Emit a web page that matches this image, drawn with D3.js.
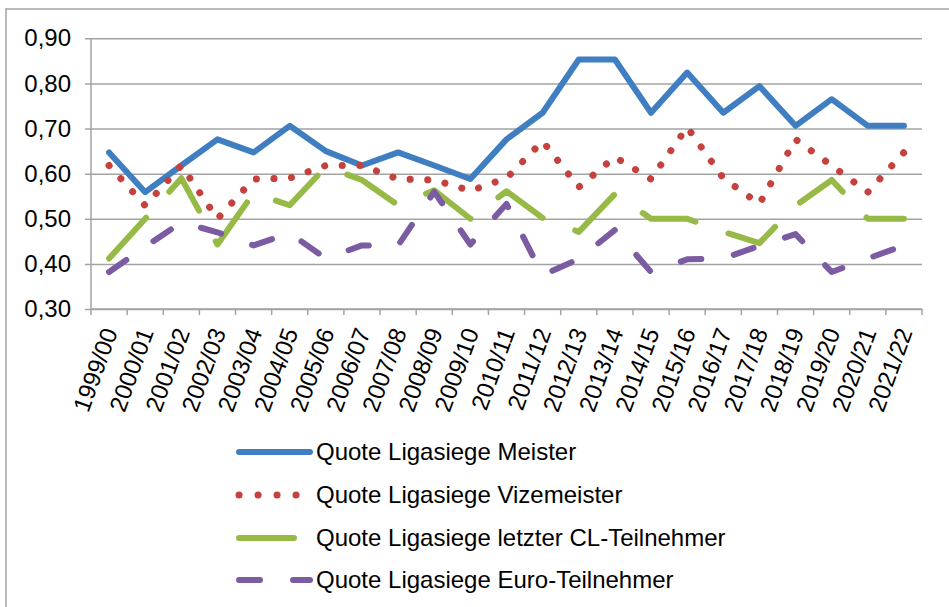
<!DOCTYPE html>
<html>
<head>
<meta charset="utf-8">
<script src="https://cdn.jsdelivr.net/npm/d3@7"></script>
<style>
  html, body { margin: 0; padding: 0; background: #fff; }
  svg { display: block; }
  text { font-family: "Liberation Sans", Arial, sans-serif; fill: #000; }
</style>
</head>
<body>
<svg id="chart" width="949" height="607"></svg>
<script>
// ---- data ----
const seasons = ["1999/00","2000/01","2001/02","2002/03","2003/04","2004/05","2005/06","2006/07",
  "2007/08","2008/09","2009/10","2010/11","2011/12","2012/13","2013/14","2014/15","2015/16",
  "2016/17","2017/18","2018/19","2019/20","2020/21","2021/22"];
const meister   = [0.647,0.559,0.618,0.676,0.647,0.706,0.650,0.618,0.647,0.618,0.588,0.676,0.735,0.853,0.853,0.735,0.824,0.735,0.794,0.706,0.765,0.706,0.706];
const vize      = [0.618,0.529,0.618,0.500,0.588,0.590,0.618,0.618,0.588,0.586,0.562,0.590,0.672,0.570,0.637,0.588,0.703,0.590,0.533,0.676,0.618,0.559,0.647];
const letzterCL = [0.412,0.500,0.590,0.443,0.557,0.530,0.615,0.586,0.530,0.563,0.500,0.561,0.502,0.471,0.555,0.500,0.500,0.471,0.446,0.529,0.586,0.500,0.500];
const euro      = [0.382,0.438,0.492,0.470,0.441,0.468,0.412,0.441,0.441,0.560,0.443,0.533,0.375,0.411,0.475,0.382,0.410,0.412,0.440,0.466,0.382,0.412,0.441];
const seriesNames = ["Quote Ligasiege Meister","Quote Ligasiege Vizemeister",
  "Quote Ligasiege letzter CL-Teilnehmer","Quote Ligasiege Euro-Teilnehmer"];
const yTicks = [0.30,0.40,0.50,0.60,0.70,0.80,0.90];

// ---- styles ----
const styles = [
  {color:"#3f7ec1", width:6, dash:null},
  {color:"#c5413d", width:7, dash:"0.1,17.5"},
  {color:"#97ba47", width:6, dash:"55,35"},
  {color:"#7b5ba2", width:6, dash:"21,33"}
];
const seriesData = [meister, vize, letzterCL, euro];

const svg = d3.select("#chart");
const grid = "#a3a3a3";

// outer border
svg.append("rect").attr("x",6).attr("y",9).attr("width",960).attr("height",620)
  .attr("fill","none").attr("stroke",grid).attr("stroke-width",1.5);

const pLeft = 91, pRight = 922, pTop = 38.3, pBottom = 309;
const x = d3.scaleBand().domain(seasons).range([pLeft, pRight]).padding(0);
const xc = s => x(s) + x.bandwidth()/2;
const y = d3.scaleLinear().domain([0.3, 0.9]).range([pBottom, pTop]);

// gridlines + y tick stubs
const fmt = v => d3.format(".2f")(v).replace(".", ",");
const yAxis = d3.axisLeft(y).tickValues(yTicks).tickSize(6).tickFormat(fmt).tickPadding(14);
const gy = svg.append("g").attr("transform",`translate(${pLeft},0)`).call(yAxis);
gy.selectAll(".tick line").attr("x1", pRight-pLeft).attr("x2",-6).attr("stroke",grid).attr("stroke-width",1.5);
gy.select(".domain").remove();
gy.selectAll(".tick text").attr("font-size",24).attr("fill","#000")
  .attr("font-family",'"Liberation Sans", Arial, sans-serif');
svg.append("line").attr("x1",pLeft).attr("x2",pLeft).attr("y1",pTop).attr("y2",pBottom)
  .attr("stroke",grid).attr("stroke-width",1.5);

// x axis line with ticks at category boundaries
svg.append("line").attr("x1",pLeft).attr("x2",pRight).attr("y1",pBottom).attr("y2",pBottom)
  .attr("stroke",grid).attr("stroke-width",1.5);
const boundaries = seasons.map(s => x(s)).concat([x(seasons[seasons.length-1]) + x.bandwidth()]);
svg.append("g").selectAll("line").data(boundaries).join("line")
  .attr("x1",d=>d).attr("x2",d=>d).attr("y1",pBottom).attr("y2",pBottom+6)
  .attr("stroke",grid).attr("stroke-width",1.5);

// x labels rotated
svg.append("g").selectAll("text").data(seasons).join("text")
  .attr("transform", d => `translate(${xc(d)+1},${pBottom+20}) rotate(-70)`)
  .attr("text-anchor","end").attr("dy","0.35em").attr("font-size",24).text(d=>d);

// lines
const line = d3.line().x((d,i)=>xc(seasons[i])).y(d=>y(d));
seriesData.forEach((vals, k) => {
  const st = styles[k];
  svg.append("path").datum(vals).attr("d", line)
    .attr("fill","none").attr("stroke",st.color).attr("stroke-width",st.width)
    .attr("stroke-linecap","round").attr("stroke-linejoin","round")
    .attr("stroke-dasharray", st.dash);
});

// legend
const legY = [452, 495, 538, 580];
const lg = svg.append("g");
seriesNames.forEach((name, k) => {
  const st = styles[k];
  lg.append("line").attr("x1",239).attr("x2",310).attr("y1",legY[k]).attr("y2",legY[k])
    .attr("stroke",st.color).attr("stroke-width",st.width).attr("stroke-linecap","round")
    .attr("stroke-dasharray", k===1 ? "0.1,18.9" : st.dash);
  lg.append("text").attr("x",316).attr("y",legY[k]).attr("dy","0.35em")
    .attr("font-size",24).text(name);
});
</script>
</body>
</html>
